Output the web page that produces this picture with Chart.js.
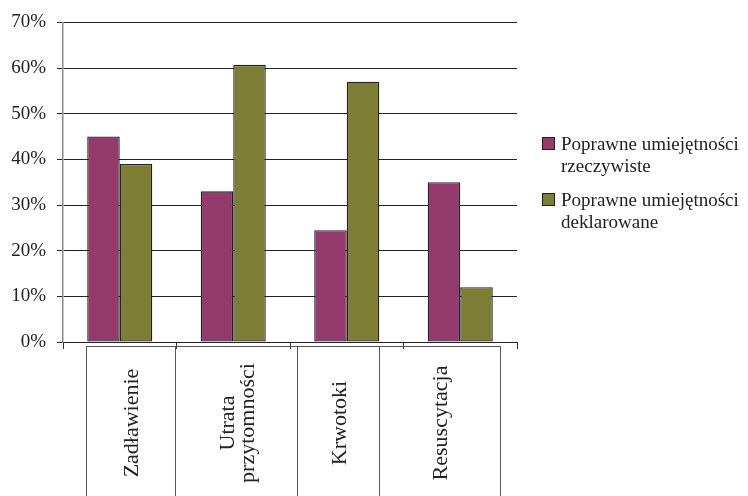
<!DOCTYPE html>
<html>
<head>
<meta charset="utf-8">
<script src="https://cdn.jsdelivr.net/npm/chart.js@4/dist/chart.umd.min.js"></script>
<style>
  html, body { margin: 0; padding: 0; background: #fff; }
  canvas { display: block; }
</style>
</head>
<body>
<canvas id="myChart" width="748" height="496"></canvas>
<script>
const categories = [
  ["Zadławienie"],
  ["Utrata", "przytomności"],
  ["Krwotoki"],
  ["Resuscytacja"],
];

const seriesNames = [
  ["Poprawne umiejętności", "rzeczywiste"],
  ["Poprawne umiejętności", "deklarowane"],
];

const rzeczywiste = [45, 33, 24.5, 35];
const deklarowane = [39, 60.7, 57, 12];

const yTicks = [0, 10, 20, 30, 40, 50, 60, 70];

const colors = ["#953a6c", "#7d7e35"];
const serif = "'Liberation Serif', 'Times New Roman', serif";

// ramki pod osią X (jak w oryginale z Excela)
const boxEdges = [86, 175, 297, 379, 500];
const boxTop = 346;

const categoryBoxes = {
  id: "categoryBoxes",
  afterDraw(chart) {
    const ctx = chart.ctx;
    ctx.save();
    ctx.strokeStyle = "#555";
    ctx.lineWidth = 1;
    ctx.beginPath();
    ctx.moveTo(boxEdges[0], boxTop + 0.5);
    ctx.lineTo(boxEdges[boxEdges.length - 1], boxTop + 0.5);
    boxEdges.forEach((x) => {
      ctx.moveTo(x + 0.5, boxTop);
      ctx.lineTo(x + 0.5, chart.height);
    });
    ctx.stroke();

    ctx.fillStyle = "#222";
    ctx.font = "22px " + serif;
    ctx.textAlign = "center";
    ctx.textBaseline = "middle";
    chart.data.labels.forEach((lines, i) => {
      const cx = (boxEdges[i] + boxEdges[i + 1]) / 2 + 1;
      ctx.save();
      ctx.translate(cx, 423);
      ctx.rotate(-Math.PI / 2);
      lines.forEach((line, j) => {
        ctx.fillText(line, 0, (j - (lines.length - 1) / 2) * 20 + 1);
      });
      ctx.restore();
    });
    ctx.restore();
  },
};

const sideLegend = {
  id: "sideLegend",
  afterDraw(chart) {
    const ctx = chart.ctx;
    ctx.save();
    ctx.font = "19px " + serif;
    ctx.textAlign = "left";
    ctx.textBaseline = "alphabetic";
    chart.data.datasets.forEach((ds, i) => {
      const top = 137 + i * 56;
      ctx.fillStyle = ds.backgroundColor;
      ctx.fillRect(542, top, 12, 12);
      ctx.strokeStyle = "#222";
      ctx.lineWidth = 1;
      ctx.strokeRect(542.5, top + 0.5, 12, 12);
      ctx.fillStyle = "#222";
      seriesNames[i].forEach((line, j) => {
        ctx.fillText(line, 561, top + 13 + j * 22);
      });
    });
    ctx.restore();
  },
};

const chart = new Chart(document.getElementById("myChart").getContext("2d"), {
  type: "bar",
  data: {
    labels: categories,
    datasets: [
      {
        label: seriesNames[0].join(" "),
        data: rzeczywiste,
        backgroundColor: colors[0],
        borderColor: "#222",
        borderWidth: 1.3,
        borderSkipped: false,
      },
      {
        label: seriesNames[1].join(" "),
        data: deklarowane,
        backgroundColor: colors[1],
        borderColor: "#222",
        borderWidth: 1.3,
        borderSkipped: false,
      },
    ],
  },
  options: {
    responsive: false,
    animation: false,
    categoryPercentage: 0.573,
    barPercentage: 1,
    layout: {
      padding: { top: 20, right: 231, left: 0, bottom: 0 },
    },
    plugins: {
      legend: { display: false },
      tooltip: { enabled: false },
    },
    scales: {
      x: {
        offset: true,
        ticks: { display: false },
        grid: {
          display: true,
          drawOnChartArea: false,
          drawTicks: true,
          tickLength: 7,
          color: "#333",
          offset: true,
        },
        border: { color: "#222", width: 1 },
        afterFit: (scale) => {
          scale.height = 154;
        },
      },
      y: {
        min: 0,
        max: 70,
        afterBuildTicks: (scale) => {
          scale.ticks = yTicks.map((v) => ({ value: v }));
        },
        ticks: {
          padding: 11,
          color: "#222",
          font: { family: serif, size: 19 },
          callback: (v) => v + "%",
        },
        grid: {
          color: "#222",
          lineWidth: 1,
          tickLength: 6,
        },
        border: { color: "#8a8a8a", width: 1.5 },
        afterFit: (scale) => {
          scale.width = 63;
        },
      },
    },
  },
  plugins: [categoryBoxes, sideLegend],
});
</script>
</body>
</html>
